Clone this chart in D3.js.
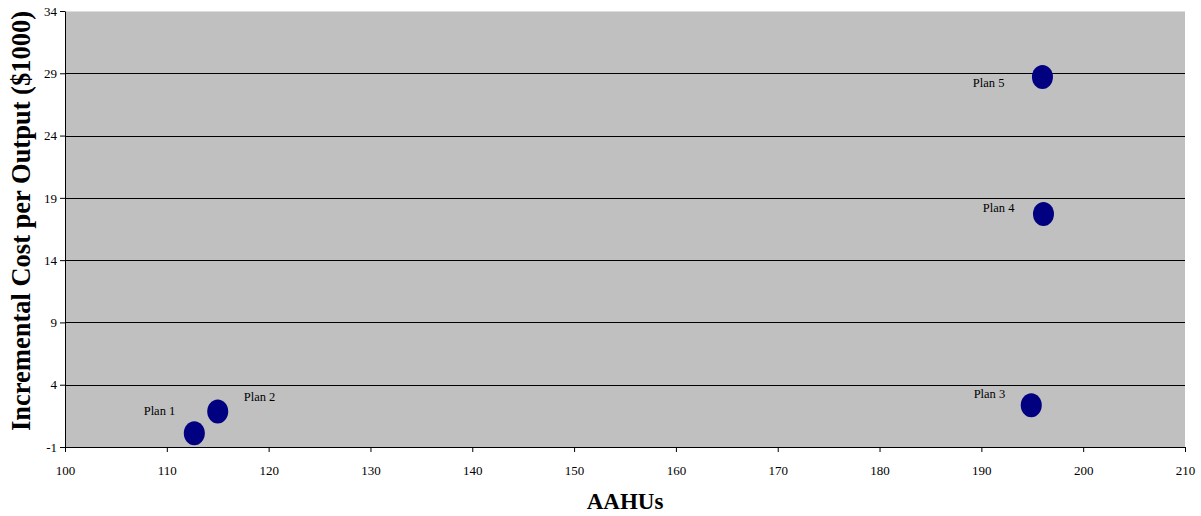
<!DOCTYPE html>
<html><head><meta charset="utf-8">
<script src="https://cdn.jsdelivr.net/npm/d3@7"></script>
<style>body{margin:0;background:#fff}svg{display:block}</style>
</head><body>
<svg id="c" width="1201" height="516"></svg>
<script>
const plans = ["Plan 1", "Plan 2", "Plan 3", "Plan 4", "Plan 5"];
const aahus = [112.7, 115.0, 194.9, 196.1, 196.0];
const costs = [0.1, 1.85, 2.35, 17.7, 28.7];
const xTicks = [100, 110, 120, 130, 140, 150, 160, 170, 180, 190, 200, 210];
const yTicks = [-1, 4, 9, 14, 19, 24, 29, 34];

// label placement (style): anchor, dx, dy
const labelStyle = [
  {anchor: "end", dx: -19, dy: -18},
  {anchor: "start", dx: 26, dy: -10},
  {anchor: "end", dx: -26, dy: -7},
  {anchor: "end", dx: -29, dy: -2},
  {anchor: "end", dx: -38, dy: 10}
];

const svg = d3.select("#c");
const L = 65, R = 1185, T = 11, B = 447;
const x = d3.scaleLinear().domain([100, 210]).range([L, R]);
const y = d3.scaleLinear().domain([-1, 34]).range([B, T]);
const font = "'Liberation Serif','Times New Roman',serif";

svg.append("rect").attr("x", L).attr("y", T).attr("width", R - L).attr("height", B - T).attr("fill", "#c0c0c0");
svg.append("line").attr("x1", L).attr("x2", R).attr("y1", T + 0.5).attr("y2", T + 0.5).attr("stroke", "#dcdcdc");

// gridlines
svg.append("g").selectAll("line").data(yTicks.filter(d => d > -1 && d < 34)).join("line")
  .attr("x1", L).attr("x2", R)
  .attr("y1", d => Math.round(y(d)) + 0.5).attr("y2", d => Math.round(y(d)) + 0.5)
  .attr("stroke", "#000").attr("stroke-width", 1);

const xAxis = svg.append("g").attr("transform", `translate(0,${B})`)
  .call(d3.axisBottom(x).tickValues(xTicks).tickSize(5).tickSizeOuter(0).tickPadding(14).tickFormat(d => String(d)));
const yAxis = svg.append("g").attr("transform", `translate(${L},0)`)
  .call(d3.axisLeft(y).tickValues(yTicks).tickSize(5).tickSizeOuter(0).tickPadding(3).tickFormat(d => String(d)));
[xAxis, yAxis].forEach(g => {
  g.select(".domain").attr("stroke", "#000");
  g.selectAll(".tick line").attr("stroke", "#000");
  g.selectAll("text").attr("font-family", font).attr("font-size", 13).attr("fill", "#000");
});

const pts = plans.map((p, i) => ({p, x: aahus[i], y: costs[i], s: labelStyle[i]}));
svg.append("g").selectAll("ellipse").data(pts).join("ellipse")
  .attr("cx", d => x(d.x)).attr("cy", d => y(d.y)).attr("rx", 10.5).attr("ry", 12)
  .attr("fill", "#000080");

svg.append("g").selectAll("text").data(pts).join("text")
  .attr("x", d => x(d.x) + d.s.dx).attr("y", d => y(d.y) + d.s.dy)
  .attr("text-anchor", d => d.s.anchor)
  .attr("font-family", font).attr("font-size", 12.5).attr("fill", "#000")
  .text(d => d.p);

svg.append("text").attr("x", (L + R) / 2).attr("y", 509).attr("text-anchor", "middle")
  .attr("font-family", font).attr("font-size", 23).attr("font-weight", "bold").text("AAHUs");
svg.append("text").attr("transform", `translate(30,221) rotate(-90)`).attr("text-anchor", "middle")
  .attr("font-family", font).attr("font-size", 26.5).attr("font-weight", "bold")
  .text("Incremental Cost per Output ($1000)");
</script>
</body></html>
